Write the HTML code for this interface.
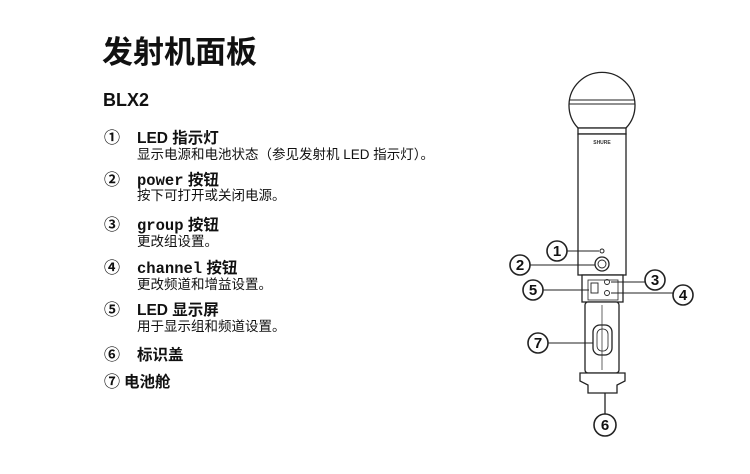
<!DOCTYPE html>
<html><head><meta charset="utf-8"><style>
body{margin:0;width:750px;height:474px;background:#fff;position:relative;overflow:hidden;font-family:"Liberation Sans","Noto Sans CJK SC",sans-serif;color:#111}
.a{position:absolute;white-space:nowrap;line-height:1}
.h{font-weight:bold;font-size:15.5px}
.d{font-size:13.5px}
.m{font-family:"Liberation Mono",monospace;font-weight:bold}
.n{font-size:16px;font-weight:bold}
</style></head><body>
<div class="a" style="left:102px;top:37px;font-size:31px;font-weight:bold">发射机面板</div>
<div class="a" style="left:103px;top:91px;font-size:18px;font-weight:bold">BLX2</div>

<div class="a n" style="left:104px;top:131px">①</div>
<div class="a h" style="left:137px;top:131px">LED 指示灯</div>
<div class="a d" style="left:137px;top:148px">显示电源和电池状态（参见发射机 LED 指示灯）。</div>

<div class="a n" style="left:104px;top:173px">②</div>
<div class="a h" style="left:137px;top:173px"><span class="m">power</span> 按钮</div>
<div class="a d" style="left:137px;top:189px">按下可打开或关闭电源。</div>

<div class="a n" style="left:104px;top:218px">③</div>
<div class="a h" style="left:137px;top:218px"><span class="m">group</span> 按钮</div>
<div class="a d" style="left:137px;top:235px">更改组设置。</div>

<div class="a n" style="left:104px;top:261px">④</div>
<div class="a h" style="left:137px;top:261px"><span class="m">channel</span> 按钮</div>
<div class="a d" style="left:137px;top:278px">更改频道和增益设置。</div>

<div class="a n" style="left:104px;top:303px">⑤</div>
<div class="a h" style="left:137px;top:303px">LED 显示屏</div>
<div class="a d" style="left:137px;top:320px">用于显示组和频道设置。</div>

<div class="a n" style="left:104px;top:348px">⑥</div>
<div class="a h" style="left:137px;top:348px">标识盖</div>

<div class="a n" style="left:104px;top:375px">⑦</div>
<div class="a h" style="left:124px;top:375px">电池舱</div>

<svg width="750" height="474" style="position:absolute;left:0;top:0" fill="none" stroke="#222" stroke-width="1.3">
<path d="M578,128 A33,33 0 1 1 626,128 Z" fill="#fff"/>
<line x1="569" y1="100" x2="635" y2="100" stroke-width="1"/>
<line x1="569" y1="104" x2="635" y2="104" stroke-width="1"/>
<rect x="578" y="128" width="48" height="6" fill="#fff"/>
<rect x="578" y="134" width="48" height="141" fill="#fff"/>
<text x="602" y="144" font-size="5" font-weight="bold" text-anchor="middle" fill="#333" stroke="none" font-family="Liberation Sans">SHURE</text>
<circle cx="602" cy="251" r="2" stroke-width="1"/>
<circle cx="602" cy="264" r="7"/>
<circle cx="602" cy="264" r="4" stroke-width="0.9"/>
<rect x="582" y="275" width="41" height="27" fill="#fff"/>
<rect x="588" y="280" width="30" height="20" stroke-width="0.8"/>
<rect x="591" y="283" width="7" height="10" stroke-width="0.9"/>
<circle cx="607" cy="282" r="2.5" stroke-width="0.9"/>
<circle cx="607" cy="293" r="2.5" stroke-width="0.9"/>
<rect x="585" y="302" width="34" height="71" rx="3" fill="#fff"/>
<line x1="602" y1="305" x2="602" y2="370" stroke-width="0.7"/>
<rect x="593" y="325" width="19" height="30" rx="7"/>
<rect x="597" y="329" width="11" height="22" rx="5" stroke-width="0.8"/>
<path d="M580,373 H625 V381 L617,385 V393 H588 V385 L580,381 Z" fill="#fff"/>
<line x1="605" y1="393" x2="605" y2="414"/>
<g stroke-width="1.6">
<circle cx="557" cy="251" r="10"/><line x1="567" y1="251" x2="599" y2="251" stroke-width="1"/>
<circle cx="520" cy="265" r="10"/><line x1="530" y1="265" x2="595" y2="265" stroke-width="1"/>
<circle cx="533" cy="290" r="10"/><line x1="543" y1="290" x2="589" y2="290" stroke-width="1"/>
<circle cx="655" cy="280" r="10"/><line x1="611" y1="282" x2="645" y2="282" stroke-width="1"/>
<circle cx="683" cy="295" r="10"/><line x1="611" y1="293" x2="673" y2="293" stroke-width="1"/>
<circle cx="538" cy="343" r="10"/><line x1="548" y1="343" x2="593" y2="343" stroke-width="1"/>
<circle cx="605" cy="425" r="11"/>
</g>
<g font-family="Liberation Sans" font-size="15" font-weight="bold" fill="#111" stroke="none" text-anchor="middle">
<text x="557" y="256">1</text><text x="520" y="270">2</text><text x="533" y="295">5</text>
<text x="655" y="285">3</text><text x="683" y="300">4</text><text x="538" y="348">7</text><text x="605" y="430">6</text>
</g>
</svg>
</body></html>
